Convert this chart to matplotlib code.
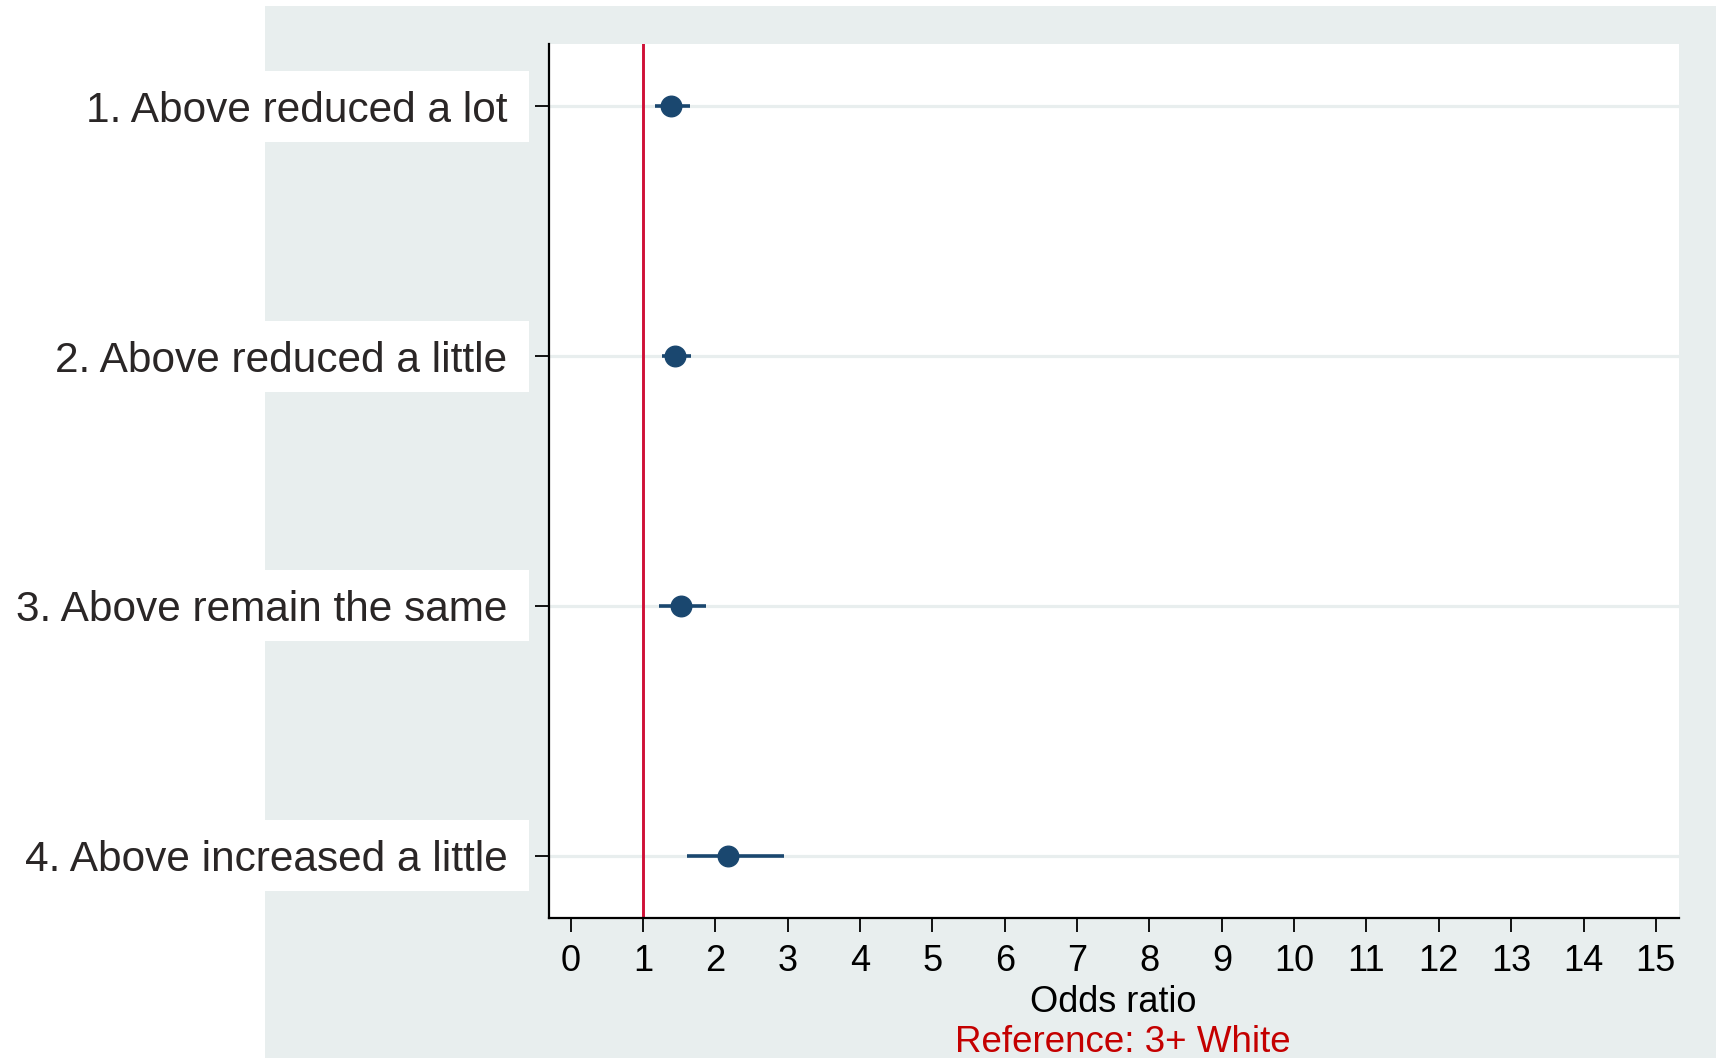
import matplotlib
matplotlib.use("Agg")
import matplotlib.pyplot as plt
from matplotlib.patches import Rectangle
from matplotlib.transforms import blended_transform_factory

# Odds ratios with 95% confidence intervals by category
categories = [
    "1. Above reduced a lot",
    "2. Above reduced a little",
    "3. Above remain the same",
    "4. Above increased a little",
]
odds_ratio = [1.38, 1.44, 1.52, 2.17]
ci_lower = [1.16, 1.26, 1.22, 1.60]
ci_upper = [1.65, 1.66, 1.87, 2.95]
x_ticks = list(range(0, 16))
reference_value = 1
x_label = "Odds ratio"
note = "Reference: 3+ White"

plt.rcParams['font.family'] = ['Liberation Sans', 'DejaVu Sans']

NAVY = '#1A476F'
BG = '#E8EEEE'

fig = plt.figure(figsize=(17.18, 10.58), dpi=100)
fig.patch.set_facecolor('white')

# graph region background
fig.patches.append(Rectangle((0.1542, 0.0), 0.8446, 0.9943,
                             transform=fig.transFigure, fc=BG, ec='none',
                             zorder=-5))

ax = fig.add_axes([0.3196, 0.1323, 0.6577, 0.8261])
ax.set_facecolor('white')

ypos = list(range(1, len(categories) + 1))

# white panels behind the category labels
label_tf = blended_transform_factory(fig.transFigure, ax.transData)
for y in ypos:
    fig.patches.append(Rectangle((0.0, y - 0.1425), 0.3079, 0.285,
                                 transform=label_tf, fc='white', ec='none',
                                 zorder=-4))

# horizontal grid lines at each category
for y in ypos:
    ax.axhline(y, color=BG, lw=2.3, zorder=1)

# reference line
ax.axvline(reference_value, color='#CF1037', lw=2.1, zorder=2)

# confidence intervals and point estimates
ax.hlines(ypos, ci_lower, ci_upper, color=NAVY, lw=2.6, zorder=3)
ax.plot(odds_ratio, ypos, 'o', color=NAVY, ms=14.8, zorder=4)

ax.set_xlim(-0.3, 15.32)
ax.set_ylim(4.25, 0.75)

ax.set_xticks(x_ticks)
ax.set_xticklabels([str(t) for t in x_ticks], fontsize=26, color='black')
ax.set_yticks(ypos)
ax.set_yticklabels(categories, fontsize=30.5, color='#2A2626')

ax.tick_params(axis='x', direction='out', length=10, width=1.3, pad=9, color='black')
ax.tick_params(axis='y', direction='out', length=10, width=1.3, pad=20, color='black')

for side in ['top', 'right']:
    ax.spines[side].set_visible(False)
for side in ['left', 'bottom']:
    ax.spines[side].set_color('black')
    ax.spines[side].set_linewidth(1.6)

fig.text(0.6480, 0.0433, x_label, ha='center', va='baseline', fontsize=26, color='black')
fig.text(0.6534, 0.0052, note, ha='center', va='baseline', fontsize=26.5, color='#C40000')

fig.savefig('out.png', dpi=100, facecolor='white')
